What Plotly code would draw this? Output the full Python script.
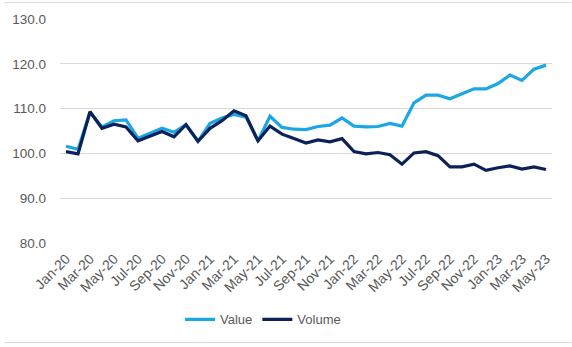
import plotly.graph_objects as go

months = ["Jan-20","Feb-20","Mar-20","Apr-20","May-20","Jun-20","Jul-20","Aug-20","Sep-20","Oct-20","Nov-20","Dec-20",
          "Jan-21","Feb-21","Mar-21","Apr-21","May-21","Jun-21","Jul-21","Aug-21","Sep-21","Oct-21","Nov-21","Dec-21",
          "Jan-22","Feb-22","Mar-22","Apr-22","May-22","Jun-22","Jul-22","Aug-22","Sep-22","Oct-22","Nov-22","Dec-22",
          "Jan-23","Feb-23","Mar-23","Apr-23","May-23"]

value = [101.6,100.9,109.2,105.9,107.3,107.5,103.4,104.5,105.6,104.7,106.4,102.7,
         106.7,107.9,108.7,108.1,102.8,108.3,105.8,105.4,105.3,106.0,106.3,107.9,
         106.1,105.9,106.0,106.7,106.1,111.3,113.0,113.0,112.2,113.3,114.4,114.4,
         115.6,117.5,116.3,118.8,119.7]

volume = [100.4,99.9,109.3,105.6,106.5,105.9,102.8,103.9,104.9,103.7,106.4,102.7,
          105.6,107.3,109.5,108.4,102.8,106.1,104.3,103.3,102.3,103.0,102.6,103.3,
          100.4,99.9,100.2,99.7,97.6,100.1,100.4,99.5,97.0,97.0,97.6,96.2,
          96.8,97.2,96.5,97.0,96.4]

tick_labels = months[::2]

fig = go.Figure()
fig.add_trace(go.Scatter(x=months, y=value, name="Value", mode="lines",
                         line=dict(color="#1CA6E5", width=3.2)))
fig.add_trace(go.Scatter(x=months, y=volume, name="Volume", mode="lines",
                         line=dict(color="#0B2259", width=3.2)))

fig.update_layout(
    width=572, height=347,
    margin=dict(l=56, r=20, t=17, b=104),
    paper_bgcolor="white", plot_bgcolor="white",
    font=dict(family="Liberation Sans, Arial, sans-serif", color="#595959", size=13),
    showlegend=True,
    legend=dict(orientation="h", x=0.244, xanchor="left", y=-0.341, yanchor="middle",
                font=dict(size=13, color="#595959"), itemwidth=30, tracegroupgap=0),
    xaxis=dict(type="category", tickmode="array", tickvals=tick_labels, ticktext=tick_labels,
               tickangle=-45, showgrid=False, showline=False, ticks="", zeroline=False,
               ticklabelstandoff=4,
               tickfont=dict(size=14, color="#595959"), range=[-0.5, len(months)-0.5]),
    yaxis=dict(range=[80, 130], dtick=10, tickformat=".1f", showgrid=True, gridcolor="#D9D9D9",
               gridwidth=1, zeroline=False, showline=False, ticks="", ticklen=0,
               ticklabelstandoff=13,
               tickfont=dict(size=13.5, color="#595959")),
)

# outer chart border lines (top and bottom)
fig.add_shape(type="line", xref="paper", yref="paper", x0=-56/496, x1=1+20/496,
              y0=242.5/226, y1=242.5/226, line=dict(color="#D9D9D9", width=1))
fig.add_shape(type="line", xref="paper", yref="paper", x0=-56/496, x1=1+20/496,
              y0=(243-343.5)/226, y1=(243-343.5)/226, line=dict(color="#D9D9D9", width=1))

fig.write_html("out.html")
